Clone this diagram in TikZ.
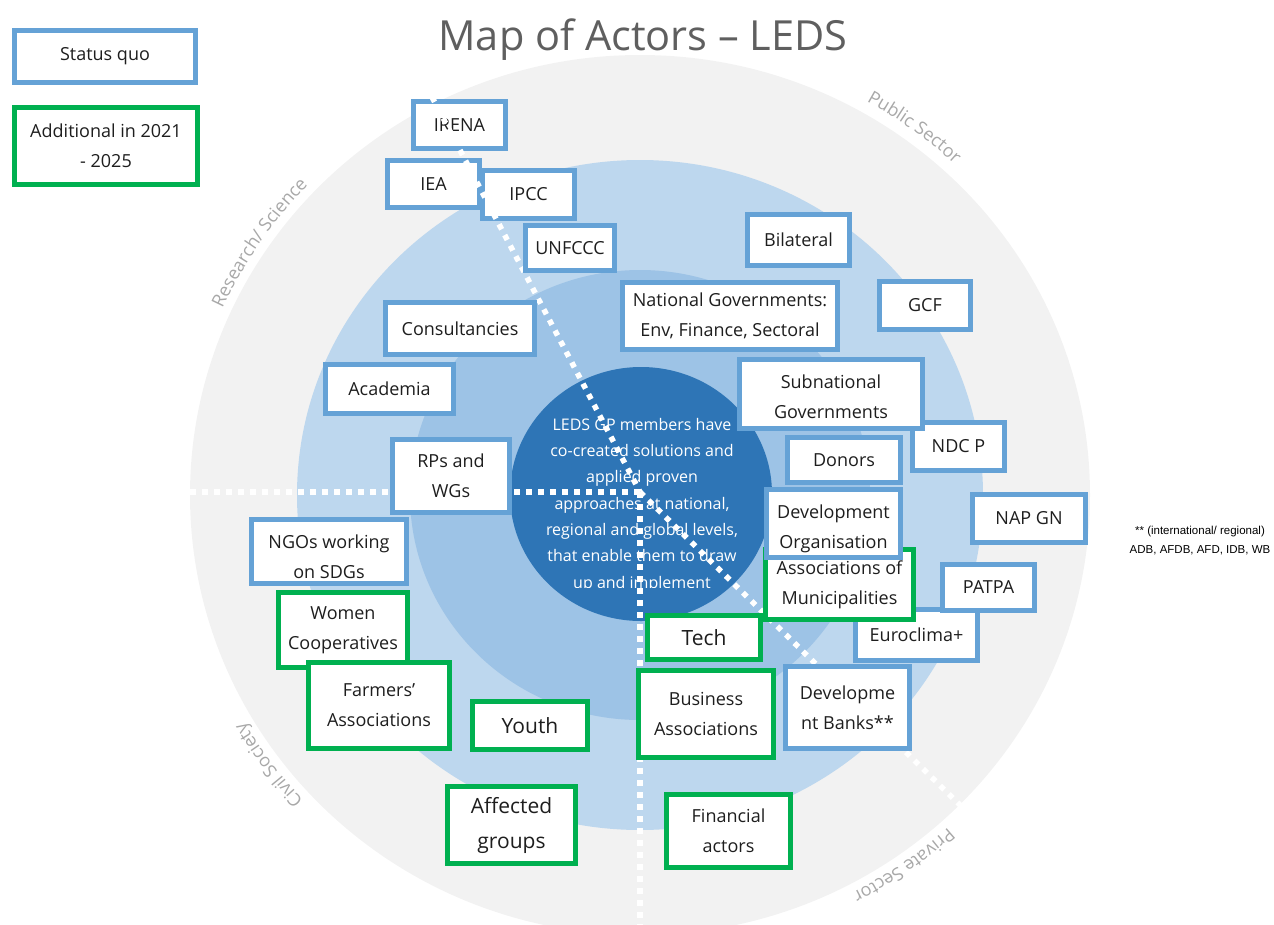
\documentclass[tikz,border=0pt]{standalone}
\usepackage{fontspec}
\setmainfont{Open Sans}
\newfontfamily\notefont{Liberation Sans}
\usetikzlibrary{calc,decorations.text}

\definecolor{ringgrey}{HTML}{F2F2F2}
\definecolor{ringlight}{HTML}{BDD7EE}
\definecolor{ringmid}{HTML}{9DC3E6}
\definecolor{ringcore}{HTML}{2E75B6}
\definecolor{sqblue}{HTML}{65A2D6}
\definecolor{addgreen}{HTML}{00B050}
\definecolor{boxtext}{HTML}{1E1E1E}
\definecolor{titlegrey}{HTML}{5F5F5F}
\definecolor{sectorgrey}{HTML}{A8A8A8}

\newcommand\boxfont{\fontsize{18}{30}\selectfont}
\newcommand\bigboxfont{\fontsize{21}{35}\selectfont}
\newcommand\sectorfont{\fontsize{18}{18}\selectfont\color{sectorgrey}}

\tikzset{
  actorbase/.style={line width=5pt, fill=white, inner sep=0pt, align=center,
    text=boxtext, font=\boxfont},
  sqbox/.style={actorbase, draw=sqblue},
  addbox/.style={actorbase, draw=addgreen},
  boxlabel/.style={inner sep=0pt, align=center, text=boxtext, font=\boxfont},
  sectorline/.style={draw=white, line width=5.5pt, dash pattern=on 5.5pt off 6.5pt},
  sectorlabel/.style={decorate, decoration={text along path, text align=center,
    text={|\sectorfont|#1}}},
}

\begin{document}
\begin{tikzpicture}[x=1pt,y=1pt]
\useasboundingbox (0,0) rectangle (1274,-924);
\clip (0,0) rectangle (1274,-924);

% concentric rings (slightly flattened)
\coordinate (O) at (640,-495);
\fill[ringgrey]  (O) ellipse[x radius=450, y radius=440];
\fill[ringlight] (O) ellipse[x radius=343, y radius=335];
\fill[ringmid]   (O) ellipse[x radius=230, y radius=225];
\fill[ringcore]  (641,-494) ellipse[x radius=131, y radius=127];

% title
\node[anchor=base, text=titlegrey, font=\fontsize{41.5}{41.5}\selectfont, inner sep=0pt]
  (title) at (643,-50) {Map of Actors – LEDS};

% sector names around the outer ring
\path[sectorlabel={Research/ Science}] ($(O)+(175:459 and 449)$) arc[start angle=175, end angle=117, x radius=459, y radius=449];
\path[sectorlabel={Public Sector}]     ($(O)+(80.5:462 and 452)$)  arc[start angle=80.5, end angle=27, x radius=462, y radius=452];
\path[sectorlabel={Civil Society}]     ($(O)+(-116:459 and 449)$) arc[start angle=-116, end angle=-171, x radius=459, y radius=449];
\path[sectorlabel={Private Sector}]    ($(O)+(-27:459 and 449)$) arc[start angle=-27, end angle=-83, x radius=459, y radius=449];

% core statement
\begin{scope}
  \clip (480,-350) rectangle (800,-587);
  \node[anchor=north, align=center, text=white, font=\fontsize{16}{26.3}\selectfont, inner sep=0pt]
    (mission) at (642,-418) {LEDS GP members have\\co-created solutions and\\applied proven\\approaches at national,\\regional and global levels,\\that enable them to draw\\up and implement};
\end{scope}

% sector dividers
\coordinate (C)     at (640,-492);
\coordinate (endW)  at (190,-492);
\coordinate (endS)  at (640,-940);
\coordinate (endNW) at (432,-97);
\coordinate (midNW) at (499.4,-225);
\coordinate (endSE) at (962,-807);
\draw[sectorline] (endW) -- (C);
\draw[sectorline] (C) -- (endS);
\draw[sectorline] (endNW) -- (C);
\draw[sectorline] (C) -- (endSE);

% legend
\node[sqbox,  minimum width=181, minimum height=52] (legsq)  at (105,-56.5) {Status quo};
\node[addbox, minimum width=183, minimum height=77] (legadd) at (106,-146) {Additional in 2021\\- 2025};

% actors: status quo
\node[sqbox, minimum width=92,  minimum height=47] (irena)     at (459.5,-125)  {IRENA};
\node[sqbox, minimum width=92,  minimum height=47] (iea)       at (433.5,-184)  {IEA};
\node[sqbox, minimum width=92,  minimum height=48] (ipcc)      at (528.5,-194.5) {IPCC};
\node[sqbox, minimum width=89,  minimum height=45] (unfccc)    at (570,-248)    {UNFCCC};
\node[sqbox, minimum width=102, minimum height=51] (bilateral) at (798.5,-240)  {Bilateral};
\node[sqbox, minimum width=215, minimum height=67] (natgov)    at (730,-316)    {National Governments:\\Env, Finance, Sectoral};
\node[sqbox, minimum width=91,  minimum height=48] (gcf)       at (925,-305.5)  {GCF};
\node[sqbox, minimum width=149, minimum height=52] (consult)   at (460,-328.5)  {Consultancies};
\node[sqbox, minimum width=128, minimum height=49] (academia)  at (389.5,-389)  {Academia};
\node[sqbox, minimum width=92,  minimum height=48] (ndcp)      at (958.5,-446.5) {NDC P};
\node[sqbox, minimum width=183, minimum height=69] (subnat)    at (831,-394)    {};
\node[boxlabel] (subnatlabel) at (831,-397) {Subnational\\Governments};
\node[sqbox, minimum width=113, minimum height=45] (donors)    at (844,-460)    {Donors};
\node[sqbox, minimum width=117, minimum height=73] (rps)       at (451,-476)    {RPs and\\WGs};
\node[sqbox, minimum width=113, minimum height=48] (napgn)     at (1029,-518.5) {NAP GN};
\node[sqbox, minimum width=155, minimum height=64] (ngos)      at (329,-551.5)  {};
\begin{scope}
  \clip ($(ngos.south west)+(2.5,2.5)$) rectangle ($(ngos.north east)-(2.5,2.5)$);
  \node[boxlabel] (ngoslabel) at (329,-556.5) {NGOs working\\on SDGs};
\end{scope}
\node[sqbox, minimum width=122, minimum height=51] (euroclima) at (916.5,-635)  {Euroclima+};
\node[sqbox, minimum width=92,  minimum height=46] (patpa)     at (988.5,-587.5) {PATPA};

% actors: additional, with overlapping status quo boxes
\node[addbox, minimum width=148, minimum height=70] (assocmun)  at (839.5,-584.5) {Associations of\\Municipalities};
\node[sqbox,  minimum width=134, minimum height=68] (devorg)    at (833.5,-523.5) {};
\begin{scope}
  \clip ($(devorg.south west)+(2.5,2.5)$) rectangle ($(devorg.north east)-(2.5,2.5)$);
  \node[boxlabel] (devorglabel) at (833.5,-528.5) {Development\\Organisation};
\end{scope}
\node[sqbox,  minimum width=124, minimum height=82] (devbanks)  at (847.5,-707.5) {Developme\\nt Banks**};
\node[addbox, minimum width=129, minimum height=75] (women)     at (343,-630)    {Women\\Cooperatives};
\node[addbox, minimum width=141, minimum height=86] (farmers)   at (379,-705.5)  {Farmers’\\Associations};
\node[addbox, minimum width=115, minimum height=48, font=\bigboxfont] (youth) at (530,-725.5) {Youth};
\node[addbox, minimum width=113, minimum height=44, font=\bigboxfont] (tech)  at (704,-637.5) {Tech};
\node[addbox, minimum width=135, minimum height=87] (business)  at (706,-714)    {Business\\Associations};
\node[addbox, minimum width=128, minimum height=77, font=\bigboxfont] (affected) at (511.5,-825) {Affected\\groups};
\node[addbox, minimum width=124, minimum height=73] (financial) at (728.5,-831)  {Financial\\actors};

% upper divider runs over the international boxes
\draw[sectorline] (endNW) -- (midNW);

% footnote for development banks
\node[align=center, text=black, font=\notefont\fontsize{11.5}{19}\selectfont, inner sep=0pt]
  (note) at (1200,-541) {** (international/ regional)\\ADB, AFDB, AFD, IDB, WB};
\end{tikzpicture}
\end{document}
